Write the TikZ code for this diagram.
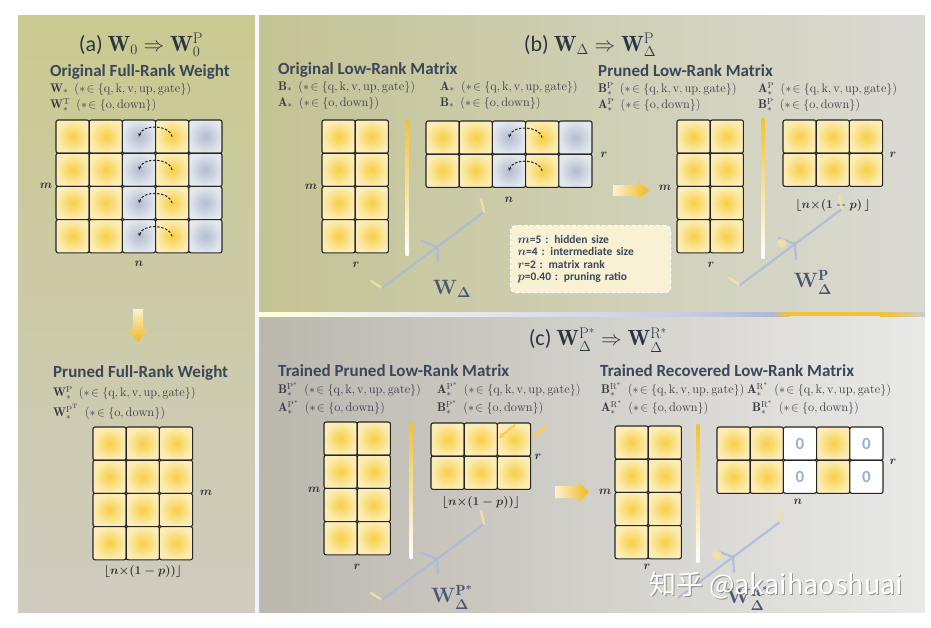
\documentclass[tikz,border=0pt]{standalone}
\usepackage{fontspec}
\setsansfont{Carlito}
\newfontfamily\cjkfont{Noto Sans CJK SC}
\usepackage{amsmath,amssymb}
\usetikzlibrary{arrows.meta}
\definecolor{headc}{HTML}{3B4759}
\definecolor{titc}{HTML}{2C3440}
\definecolor{txtc}{HTML}{3A3C44}
\definecolor{wlc}{HTML}{4B5672}
\definecolor{yIn}{HTML}{F7CF45}
\definecolor{yOut}{HTML}{FCEDB8}
\definecolor{gIn}{HTML}{B2BDCF}
\definecolor{gOut}{HTML}{E3E7EE}
\definecolor{zc}{HTML}{9CAED6}
\definecolor{arP}{HTML}{FBF2D0}
\definecolor{arY}{HTML}{F0B820}
\definecolor{barY}{HTML}{F2C232}
\definecolor{forkB}{HTML}{AEB9D8}
\definecolor{forkY}{HTML}{F3E4A0}
\definecolor{legF}{HTML}{FBF3D6}
\definecolor{aTop}{HTML}{C9CA90}
\definecolor{aMid}{HTML}{B8B88C}
\definecolor{aBot}{HTML}{CFCBC0}
\definecolor{bL}{HTML}{C3C393}
\definecolor{bR}{HTML}{DADAD4}
\definecolor{cL}{HTML}{BAB7AD}
\definecolor{cR}{HTML}{E9E9E7}
\newcommand\qkvset{(${\ast}\!\in\{\mathrm{q},\mathrm{k},\mathrm{v},\mathrm{up},\mathrm{gate}\}$)}
\newcommand\odset{(${\ast}\!\in\{\mathrm{o},\mathrm{down}\}$)}
\tikzset{
  cellbase/.style={minimum width=33.2pt, minimum height=33.2pt, inner sep=0pt, outer sep=0pt, draw=black!85, line width=1.1pt, rounded corners=2pt},
  ycell/.style={cellbase, inner color=yIn, outer color=yOut},
  gcell/.style={cellbase, inner color=gIn, outer color=gOut},
  zcell/.style={cellbase, fill=white, font=\sffamily\bfseries\fontsize{17}{17}\selectfont, text=zc},
  titf/.style={inner sep=0pt, font=\sffamily\fontsize{22}{24}\selectfont, text=titc},
  hd/.style={anchor=west, inner sep=0pt, font=\sffamily\bfseries\fontsize{17}{19}\selectfont, text=headc},
  fm/.style={anchor=west, inner sep=0pt, font=\fontsize{12.5}{14}\selectfont, text=txtc},
  dim/.style={inner sep=0pt, font=\fontsize{12}{12}\selectfont\boldmath, text=black!80},
  wl/.style={inner sep=0pt, font=\fontsize{21}{21}\selectfont\boldmath, text=wlc},
  darr/.style={draw=black!85, line width=1pt, dash pattern=on 2.5pt off 1.6pt, -{Stealth[length=3.2pt,width=3.2pt]}},
  fkb/.style={draw=forkB, line width=2.2pt, line cap=round, opacity=0.85},
  fky/.style={draw=forkY, line width=2.2pt, line cap=round, opacity=0.9},
  smarr/.style={draw=barY!80, line width=2.4pt, -{Triangle[length=5pt,width=6pt]}},
}
\newcommand\mgrid[9]{%
  \foreach \ci in {1,...,#4}{%
    \foreach \ri in {1,...,#5}{%
      \pgfmathsetmacro\gx{#2+(\ci-0.5)*33.2}%
      \pgfmathsetmacro\gy{#3+(\ri-0.5)*33.2}%
      \ifnum\ci=#6\relax
        \node[#8] (#1-\ri-\ci) at (\gx,\gy) {#9};%
      \else\ifnum\ci=#7\relax
        \node[#8] (#1-\ri-\ci) at (\gx,\gy) {#9};%
      \else
        \node[ycell] (#1-\ri-\ci) at (\gx,\gy) {};%
      \fi\fi
    }}}
\newcommand\forkshape{%
  \draw[fky] (371,281) -- (382,288);
  \draw[fkb] (382,288) -- (484,212);
  \draw[fky] (484,212) -- (481,199);
  \draw[fkb] (437,247) -- (421,241);
  \draw[fkb] (437,247) -- (438,262);
}
\begin{document}
\begin{tikzpicture}[x=1pt,y=-1pt]
\useasboundingbox (0,0) rectangle (931,627);
\fill[white] (0,0) rectangle (931,627);
% backgrounds
\shade[top color=aTop, middle color=aMid, bottom color=aBot] (18,15) rectangle (257,612);
\shade[left color=bL, right color=bR] (257,15) rectangle (925,313);
\shade[left color=cL, right color=cR] (257,313) rectangle (925,612);
% dividers
\shade[top color=white!85!blue!20, bottom color=white!80!blue!25] (255,15) rectangle (259,612);
\shade[left color=white!85!yellow, right color=white!88!gray] (258,312) rectangle (400,316);
\shade[left color=white!88!gray, right color=forkB!70!white] (400,312) rectangle (682,316);
\shade[left color=forkB!70!white, right color=forkB] (682,312) rectangle (771,316);
\shade[left color=forkB, right color=barY] (771,312) rectangle (790,316);
\fill[barY] (790,312) rectangle (880,316);
\shade[left color=barY, right color=gray!40] (880,312) rectangle (925,316);

% ================= panel (a)
\node[titf] (ta) at (141,45) {(a) $\mathbf{W}_0 \Rightarrow \mathbf{W}_0^{\mathrm{P}}$};
\node[hd] (ha) at (50,72) {Original Full-Rank Weight};
\node[fm] (fa1) at (50,89) {$\mathbf{W}_{\ast}$\enspace\qkvset};
\node[fm] (fa2) at (50,105) {$\mathbf{W}_{\ast}^{\mathrm{T}}$\enspace\odset};
\mgrid{A}{56}{120}{5}{4}{3}{5}{gcell}{}
\foreach \ri in {1,...,4}{\draw[darr] (A-\ri-4.center) to[bend right=75] (A-\ri-3.center);}
\node[dim] (am) at (46,186) {$m$};
\node[dim] (an) at (139,264) {$n$};
\shade[top color=arP, bottom color=arY] (133,309) -- (143,309) -- (143,330) -- (148,330) -- (138,342) -- (128,330) -- (133,330) -- cycle;
\node[hd] (hap) at (53,373) {Pruned Full-Rank Weight};
\node[fm] (fap1) at (53,393) {$\mathbf{W}_{\ast}^{\mathrm{P}}$\enspace\qkvset};
\node[fm] (fap2) at (53,412) {$\mathbf{W}_{\ast}^{\mathrm{P}^{\mathrm{T}}}$\enspace\odset};
\mgrid{AP}{93}{427}{3}{4}{0}{0}{gcell}{}
\node[dim] (apm) at (206,493) {$m$};
\node[dim] (apf) at (143,571) {$\lfloor n{\times}(1-p))\rfloor$};

% ================= panel (b)
\node[titf] (tb) at (590,45) {(b) $\mathbf{W}_{\Delta} \Rightarrow \mathbf{W}_{\Delta}^{\mathrm{P}}$};
\node[hd] (hb) at (278,70) {Original Low-Rank Matrix};
\node[fm] (fb1) at (278,87) {$\mathbf{B}_{\ast}$\enspace\qkvset};
\node[fm] (fb2) at (278,103) {$\mathbf{A}_{\ast}$\enspace\odset};
\node[fm] (fb3) at (440,87) {$\mathbf{A}_{\ast}$\enspace\qkvset};
\node[fm] (fb4) at (440,103) {$\mathbf{B}_{\ast}$\enspace\odset};
\mgrid{B1}{322}{120}{2}{4}{0}{0}{gcell}{}
\node[dim] (b1m) at (311,187) {$m$};
\node[dim] (b1r) at (356,265) {$r$};
\shade[top color=barY, bottom color=white] (405.5,120) rectangle (408.5,255);
\mgrid{A1}{426}{121}{5}{2}{3}{5}{gcell}{}
\foreach \ri in {1,2}{\draw[darr] (A1-\ri-4.center) to[bend right=75] (A1-\ri-3.center);}
\node[dim] (a1n) at (509,200) {$n$};
\node[dim] (a1r) at (604,155) {$r$};
\forkshape
\node[wl] (wd) at (452,289) {$\mathbf{W}_{\Delta}$};
\node[draw=white, line width=1.2pt, dash pattern=on 4pt off 2pt, fill=legF, fill opacity=0.95, text opacity=1, rounded corners=5pt, anchor=north west, minimum height=67pt, text width=146pt, inner xsep=7pt, align=left, font=\sffamily\bfseries\fontsize{11.5}{12.5}\selectfont, text=headc] (leg) at (510,225)
 {{\boldmath$m$}=5 : hidden size\\ {\boldmath$n$}=4 : intermediate size\\ {\boldmath$r$}=2 : matrix rank\\ {\boldmath$p$}=0.40 : pruning ratio};
\shade[left color=arP, right color=arY] (613,185) -- (638,185) -- (638,181) -- (649,190.5) -- (638,200) -- (638,196) -- (613,196) -- cycle;
\node[hd] (hbp) at (598,71) {Pruned Low-Rank Matrix};
\node[fm] (fbp1) at (598,89) {$\mathbf{B}_{\ast}^{\mathrm{P}}$\enspace\qkvset};
\node[fm] (fbp2) at (598,105) {$\mathbf{A}_{\ast}^{\mathrm{P}}$\enspace\odset};
\node[fm] (fbp3) at (758,89) {$\mathbf{A}_{\ast}^{\mathrm{P}}$\enspace\qkvset};
\node[fm] (fbp4) at (758,105) {$\mathbf{B}_{\ast}^{\mathrm{P}}$\enspace\odset};
\mgrid{B2}{677}{120}{2}{4}{0}{0}{gcell}{}
\node[dim] (b2m) at (665,188) {$m$};
\node[dim] (b2r) at (711,265) {$r$};
\shade[top color=barY, bottom color=white] (761.5,118) rectangle (764.5,258);
\mgrid{A2}{783}{120}{3}{2}{0}{0}{gcell}{}
\node[dim] (a2r) at (893,155) {$r$};
\node[dim] (a2f) at (833,205) {$\lfloor n{\times}(1-p)\,\rfloor$};
\begin{scope}[shift={(358,-3)}]\forkshape\end{scope}
\fill[forkY, opacity=0.8] (782,243) circle (4.5);
\node[wl] (wdp) at (813,282) {$\mathbf{W}_{\Delta}^{\mathrm{P}}$};

% ================= panel (c)
\node[titf] (tc) at (598,340) {(c) $\mathbf{W}_{\Delta}^{\mathrm{P}^{\ast}} \Rightarrow \mathbf{W}_{\Delta}^{\mathrm{R}^{\ast}}$};
\node[hd] (hc) at (278,371) {Trained Pruned Low-Rank Matrix};
\node[fm] (fc1) at (278,390) {$\mathbf{B}_{\ast}^{\mathrm{P}^{\ast}}$\enspace\qkvset};
\node[fm] (fc2) at (278,408) {$\mathbf{A}_{\ast}^{\mathrm{P}^{\ast}}$\enspace\odset};
\node[fm] (fc3) at (437,390) {$\mathbf{A}_{\ast}^{\mathrm{P}^{\ast}}$\enspace\qkvset};
\node[fm] (fc4) at (437,408) {$\mathbf{B}_{\ast}^{\mathrm{P}^{\ast}}$\enspace\odset};
\mgrid{B3}{324}{422}{2}{4}{0}{0}{gcell}{}
\node[dim] (b3m) at (314,490) {$m$};
\node[dim] (b3r) at (357,567) {$r$};
\shade[top color=barY, bottom color=white] (409.5,422) rectangle (412.5,558);
\mgrid{A3}{431}{423}{3}{2}{0}{0}{gcell}{}
\coordinate (s1a) at (515,425); \coordinate (s1b) at (499,438);
\coordinate (s2a) at (548,425); \coordinate (s2b) at (533,437);
\draw[smarr] (s1a) -- (s1b);
\draw[smarr] (s2a) -- (s2b);
\node[dim] (a3r) at (538,457) {$r$};
\node[dim] (a3f) at (481,502) {$\lfloor n{\times}(1-p))\rfloor$};
\shade[left color=arP, right color=arY] (555,486) -- (578,486) -- (578,481) -- (589,492) -- (578,503) -- (578,498) -- (555,498) -- cycle;
\begin{scope}[shift={(0,312)}]\forkshape\end{scope}
\node[wl] (wdps) at (452,597) {$\mathbf{W}_{\Delta}^{\mathrm{P}^{\ast}}$};

\node[hd] (hcr) at (600,371) {Trained Recovered Low-Rank Matrix};
\node[fm] (fcr1) at (601,390) {$\mathbf{B}_{\ast}^{\mathrm{R}^{\ast}}$\enspace\qkvset};
\node[fm] (fcr2) at (601,408) {$\mathbf{A}_{\ast}^{\mathrm{R}^{\ast}}$\enspace\odset};
\node[fm] (fcr3) at (747,390) {$\mathbf{A}_{\ast}^{\mathrm{R}^{\ast}}$\enspace\qkvset};
\node[fm] (fcr4) at (752,408) {$\mathbf{B}_{\ast}^{\mathrm{R}^{\ast}}$\enspace\odset};
\mgrid{B4}{615}{426}{2}{4}{0}{0}{gcell}{}
\node[dim] (b4m) at (605,492) {$m$};
\node[dim] (b4r) at (647,567) {$r$};
\shade[top color=barY, bottom color=white] (696.5,424) rectangle (699.5,562);
\mgrid{A4}{717}{427}{5}{2}{3}{5}{zcell}{0}
\node[dim] (a4r) at (893,462) {$r$};
\node[dim] (a4n) at (798,502) {$n$};
\begin{scope}[shift={(296,310)}]\forkshape\end{scope}
\fill[forkY, opacity=0.8] (717,555) circle (5);
\node[wl] (wdrs) at (748,598) {$\mathbf{W}_{\Delta}^{\mathrm{R}^{\ast}}$};
% watermark
\node[inner sep=0pt, font=\cjkfont\fontsize{27}{27}\selectfont, text=black!55, opacity=0.7] (wms) at (777,586) {知乎 @akaihaoshuai};
\node[inner sep=0pt, font=\cjkfont\fontsize{27}{27}\selectfont, text=white] (wm) at (776,585) {知乎 @akaihaoshuai};
\end{tikzpicture}
\end{document}
